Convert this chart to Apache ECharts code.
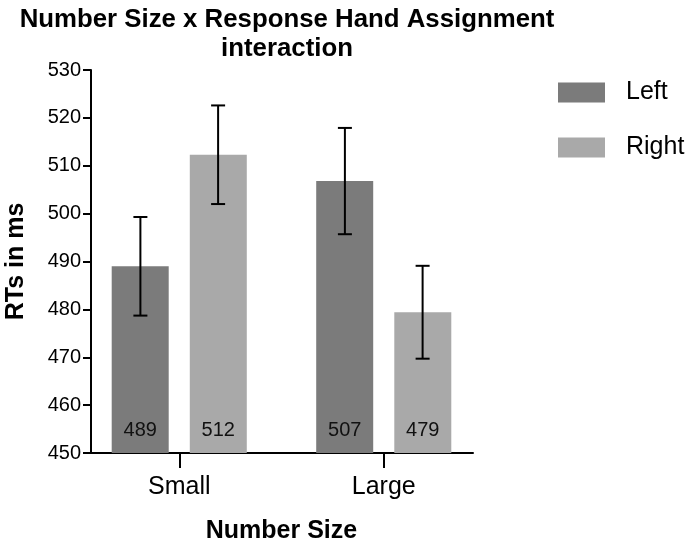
<!DOCTYPE html>
<html>
<head>
<meta charset="utf-8">
<script src="https://cdn.jsdelivr.net/npm/echarts@6/dist/echarts.min.js"></script>
<style>
  html, body { margin: 0; padding: 0; background: #fff; }
  #chart { width: 685px; height: 539px; }
</style>
</head>
<body>
<div id="chart"></div>
<script>
const categories = ['Small', 'Large']
const seriesNames = ['Left', 'Right']
const leftMeans = [489.0, 506.8]
const leftErr = [10.3, 11.1]
const rightMeans = [512.3, 479.4]
const rightErr = [10.3, 9.7]
const yMin = 450
const yMax = 530
const yStep = 10

const FONT = 'Liberation Sans, Arial, sans-serif'
const colors = ['#7b7b7b', '#a9a9a9']

const chart = echarts.init(document.getElementById('chart'))

// error bars drawn on top of the bars, shifted to the left/right bar slot
const errorSeries = (means, errs, side) => ({
  type: 'custom',
  xAxisIndex: 0,
  yAxisIndex: 0,
  z: 10,
  silent: true,
  data: means.map((m, i) => [i, m - errs[i], m + errs[i]]),
  renderItem: (params, api) => {
    const band = api.size([1, 0])[0]
    const dx = side * band * 0.19
    const lo = api.coord([api.value(0), api.value(1)])
    const hi = api.coord([api.value(0), api.value(2)])
    const x = lo[0] + dx
    const cap = 7
    const style = { stroke: '#000', lineWidth: 2 }
    return {
      type: 'group',
      children: [
        { type: 'line', shape: { x1: x, y1: lo[1], x2: x, y2: hi[1] }, style },
        { type: 'line', shape: { x1: x - cap, y1: lo[1], x2: x + cap, y2: lo[1] }, style },
        { type: 'line', shape: { x1: x - cap, y1: hi[1], x2: x + cap, y2: hi[1] }, style }
      ]
    }
  }
})

const barLabel = {
  show: true,
  position: 'insideBottom',
  distance: 13,
  color: '#111',
  fontSize: 20,
  fontFamily: FONT,
  formatter: p => Math.round(p.value)
}

const option = {
  animation: false,
  title: {
    text: 'Number Size x Response Hand Assignment\ninteraction',
    left: 282,
    top: 0,
    textAlign: 'center',
    textStyle: {
      fontFamily: FONT,
      fontSize: 25.8,
      fontWeight: 'bold',
      lineHeight: 29,
      color: '#000'
    }
  },
  legend: {
    data: seriesNames,
    orient: 'vertical',
    left: 558,
    top: 80,
    padding: 0,
    itemWidth: 47,
    itemHeight: 20,
    itemGap: 30,
    icon: 'rect',
    textStyle: {
      fontFamily: FONT,
      fontSize: 25,
      color: '#000',
      padding: [0, 0, 0, 16]
    }
  },
  grid: [
    { left: 77, top: 70, width: 409, height: 383, outerBoundsMode: 'none' },
    { left: 91, top: 70, width: 382, height: 383, outerBoundsMode: 'none' }
  ],
  xAxis: [
    {
      type: 'category',
      gridIndex: 0,
      data: categories,
      axisLine: { show: false },
      axisTick: {
        show: true,
        alignWithLabel: true,
        length: 15,
        lineStyle: { color: '#000', width: 2 }
      },
      axisLabel: {
        fontFamily: FONT,
        fontSize: 25,
        color: '#000',
        margin: 22
      },
      name: 'Number Size',
      nameLocation: 'middle',
      nameGap: 66,
      nameTextStyle: {
        fontFamily: FONT,
        fontSize: 25,
        fontWeight: 'bold',
        color: '#000'
      }
    },
    {
      type: 'value',
      gridIndex: 1,
      min: 0,
      max: 1,
      axisLine: { show: true, onZero: false, lineStyle: { color: '#000', width: 2 } },
      axisTick: { show: false },
      axisLabel: { show: false },
      splitLine: { show: false }
    }
  ],
  yAxis: [
    {
      type: 'value',
      gridIndex: 0,
      min: yMin,
      max: yMax,
      interval: yStep,
      show: false
    },
    {
      type: 'value',
      gridIndex: 1,
      min: yMin,
      max: yMax,
      interval: yStep,
      axisLine: { show: true, lineStyle: { color: '#000', width: 2 } },
      axisTick: { show: true, length: 8, lineStyle: { color: '#000', width: 2 } },
      axisLabel: {
        fontFamily: FONT,
        fontSize: 20,
        color: '#000',
        margin: 10
      },
      splitLine: { show: false },
      name: 'RTs in ms',
      nameLocation: 'middle',
      nameGap: 62,
      nameTextStyle: {
        fontFamily: FONT,
        fontSize: 25,
        fontWeight: 'bold',
        color: '#000'
      }
    }
  ],
  series: [
    {
      name: seriesNames[0],
      type: 'bar',
      xAxisIndex: 0,
      yAxisIndex: 0,
      data: leftMeans,
      barWidth: 57,
      barGap: '37%',
      itemStyle: { color: colors[0] },
      label: barLabel
    },
    {
      name: seriesNames[1],
      type: 'bar',
      xAxisIndex: 0,
      yAxisIndex: 0,
      data: rightMeans,
      barWidth: 57,
      barGap: '37%',
      itemStyle: { color: colors[1] },
      label: barLabel
    },
    errorSeries(leftMeans, leftErr, -1),
    errorSeries(rightMeans, rightErr, 1)
  ]
}

chart.setOption(option)
</script>
</body>
</html>
